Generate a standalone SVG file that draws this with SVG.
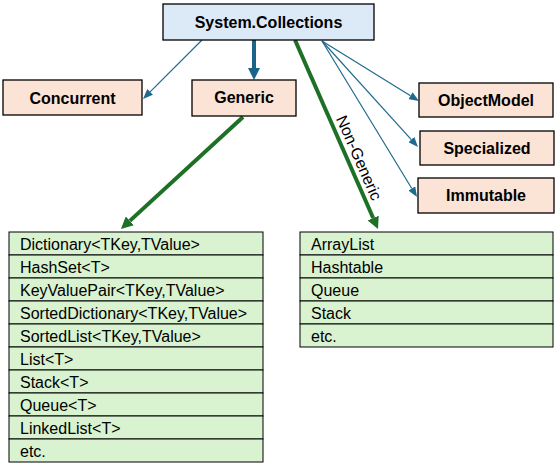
<svg xmlns="http://www.w3.org/2000/svg" width="560" height="471" viewBox="0 0 560 471">
<style>
.box{stroke:#000;stroke-width:1.3}
.top{fill:#dce9f7}
.cat{fill:#fbe3d6}
.list{fill:#d9f2d0;stroke:#000;stroke-width:1}
.hd{font-family:"Liberation Sans",Arial,sans-serif;font-weight:bold;font-size:16px;text-anchor:middle;fill:#000}
.it{font-family:"Liberation Sans",Arial,sans-serif;font-size:16px;fill:#000}
.thin{stroke:#1f6a8e;stroke-width:1.2;fill:none}
.tb{stroke:#1a6389;stroke-width:4;fill:none}
.tg{stroke:#1d7026;stroke-width:4;fill:none}
</style>
<defs>
<marker id="ah" markerUnits="userSpaceOnUse" markerWidth="10" markerHeight="8" refX="0" refY="4" orient="auto"><path d="M0,0 L10,4 L0,8 z" fill="#1f6a8e"/></marker>
<marker id="ab" markerUnits="userSpaceOnUse" markerWidth="12" markerHeight="12" refX="0" refY="6" orient="auto"><path d="M0,0 L12,6 L0,12 z" fill="#1a6389"/></marker>
<marker id="ag" markerUnits="userSpaceOnUse" markerWidth="12" markerHeight="12" refX="0" refY="6" orient="auto"><path d="M0,0 L12,6 L0,12 z" fill="#1d7026"/></marker>
</defs>
<g id="connectors">
<line class="thin" x1="202" y1="40" x2="150.1" y2="91.9" marker-end="url(#ah)"/>
<line class="thin" x1="322" y1="41" x2="410.5" y2="95.7" marker-end="url(#ah)"/>
<line class="thin" x1="322" y1="41" x2="411.3" y2="139.6" marker-end="url(#ah)"/>
<line class="thin" x1="322" y1="41" x2="411.8" y2="188.5" marker-end="url(#ah)"/>
<line class="tb" x1="254" y1="40" x2="254" y2="68" marker-end="url(#ab)"/>
<line class="tg" x1="243" y1="117" x2="129.8" y2="220.9" marker-end="url(#ag)"/>
<line class="tg" x1="295" y1="40" x2="373.2" y2="218" marker-end="url(#ag)"/>
<text class="it" text-anchor="middle" transform="translate(354,160) rotate(66.3)">Non-Generic</text>
</g>
<g id="system-collections">
<rect class="box top" x="163" y="4" width="211" height="36"/>
<text class="hd" x="268.5" y="28">System.Collections</text>
</g>
<g id="concurrent">
<rect class="box cat" x="3" y="80" width="139" height="35"/>
<text class="hd" x="72.5" y="104">Concurrent</text>
</g>
<g id="generic">
<rect class="box cat" x="192" y="80" width="104" height="36"/>
<text class="hd" x="244" y="103">Generic</text>
</g>
<g id="objectmodel">
<rect class="box cat" x="419" y="83" width="134" height="34"/>
<text class="hd" x="486" y="106">ObjectModel</text>
</g>
<g id="specialized">
<rect class="box cat" x="420" y="131" width="134" height="34"/>
<text class="hd" x="487" y="154">Specialized</text>
</g>
<g id="immutable">
<rect class="box cat" x="418" y="178" width="136" height="35"/>
<text class="hd" x="486" y="201">Immutable</text>
</g>
<g id="generic-list">
<rect class="list" x="9" y="232" width="254" height="23"/>
<rect class="list" x="9" y="255" width="254" height="23"/>
<rect class="list" x="9" y="278" width="254" height="23"/>
<rect class="list" x="9" y="301" width="254" height="23"/>
<rect class="list" x="9" y="324" width="254" height="23"/>
<rect class="list" x="9" y="347" width="254" height="23"/>
<rect class="list" x="9" y="370" width="254" height="23"/>
<rect class="list" x="9" y="393" width="254" height="23"/>
<rect class="list" x="9" y="416" width="254" height="23"/>
<rect class="list" x="9" y="439" width="254" height="23"/>
<text class="it" x="20" y="249.5">Dictionary&lt;TKey,TValue&gt;</text>
<text class="it" x="20" y="272.5">HashSet&lt;T&gt;</text>
<text class="it" x="20" y="295.5">KeyValuePair&lt;TKey,TValue&gt;</text>
<text class="it" x="20" y="318.5">SortedDictionary&lt;TKey,TValue&gt;</text>
<text class="it" x="20" y="341.5">SortedList&lt;TKey,TValue&gt;</text>
<text class="it" x="20" y="364.5">List&lt;T&gt;</text>
<text class="it" x="20" y="387.5">Stack&lt;T&gt;</text>
<text class="it" x="20" y="410.5">Queue&lt;T&gt;</text>
<text class="it" x="20" y="433.5">LinkedList&lt;T&gt;</text>
<text class="it" x="20" y="456.5">etc.</text>
</g>
<g id="nongeneric-list">
<rect class="list" x="300" y="232" width="253" height="23"/>
<rect class="list" x="300" y="255" width="253" height="23"/>
<rect class="list" x="300" y="278" width="253" height="23"/>
<rect class="list" x="300" y="301" width="253" height="23"/>
<rect class="list" x="300" y="324" width="253" height="23"/>
<text class="it" x="311" y="249.5">ArrayList</text>
<text class="it" x="311" y="272.5">Hashtable</text>
<text class="it" x="311" y="295.5">Queue</text>
<text class="it" x="311" y="318.5">Stack</text>
<text class="it" x="311" y="341.5">etc.</text>
</g>
</svg>
